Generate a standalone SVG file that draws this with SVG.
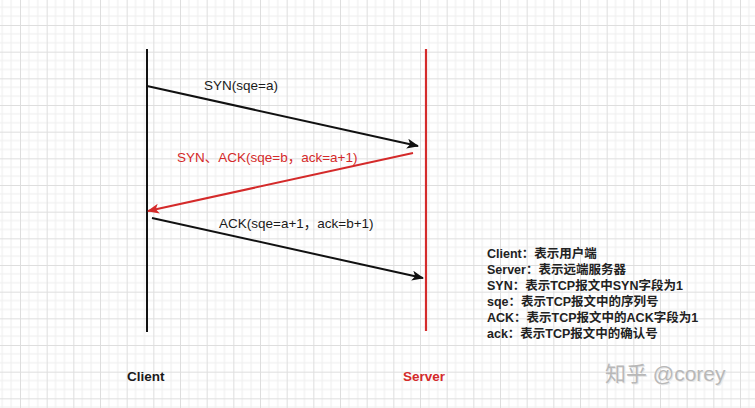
<svg xmlns="http://www.w3.org/2000/svg" width="755" height="408" viewBox="0 0 755 408">
<defs>
<pattern id="grid" patternUnits="userSpaceOnUse" x="20" y="25" width="26.667" height="26.667">
<path d="M8.889 0V26.667M17.778 0V26.667M0 8.889H26.667M0 17.778H26.667" stroke="#eeeeee" stroke-width="1" fill="none"/>
<path d="M0.5 0V26.667M0 0.5H26.667" stroke="#dedede" stroke-width="1" fill="none"/>
</pattern>
<marker id="ab" viewBox="0 0 12 10" refX="11" refY="5" markerWidth="12" markerHeight="10" markerUnits="userSpaceOnUse" orient="auto">
<path d="M0 0L12 5L0 10L3 5Z" fill="#111"/>
</marker>
<marker id="ar" viewBox="0 0 12 10" refX="11" refY="5" markerWidth="12" markerHeight="10" markerUnits="userSpaceOnUse" orient="auto">
<path d="M0 0L12 5L0 10L3 5Z" fill="#d42a2a"/>
</marker>
</defs>
<style>
.lbl{font-family:"Liberation Sans","Noto Sans CJK SC",sans-serif;font-size:13.5px}
.leg{font-family:"Liberation Sans","Noto Sans CJK SC",sans-serif;font-size:12.5px;font-weight:bold;fill:#222}
.blk{fill:#1a1a1a}
.red{fill:#d42a2a}
</style>
<rect width="755" height="408" fill="#fff"/>
<rect width="755" height="408" fill="url(#grid)"/>
<g id="client">
<line x1="147" y1="49" x2="147" y2="332" stroke="#111" stroke-width="2"/>
<text class="lbl blk" x="127" y="381" font-weight="bold" font-size="13">Client</text>
</g>
<g id="server">
<line x1="426" y1="49" x2="426" y2="331" stroke="#d42a2a" stroke-width="2.2"/>
<text class="lbl red" x="403" y="381" font-weight="bold" font-size="13">Server</text>
</g>
<g id="connectors">
<line x1="147" y1="86" x2="418" y2="146" stroke="#111" stroke-width="2" marker-end="url(#ab)"/>
<line x1="413" y1="153" x2="148" y2="211" stroke="#d42a2a" stroke-width="2" marker-end="url(#ar)"/>
<line x1="152" y1="218" x2="423" y2="278" stroke="#111" stroke-width="2" marker-end="url(#ab)"/>
<text class="lbl blk" x="204" y="90">SYN(sqe=a)</text>
<text class="lbl red" x="177" y="162">SYN、ACK(sqe=b，ack=a+1)</text>
<text class="lbl blk" x="219" y="228">ACK(sqe=a+1，ack=b+1)</text>
</g>
<g id="legend">
<text class="leg" x="487" y="258">Client：表示用户端</text>
<text class="leg" x="487" y="274">Server：表示远端服务器</text>
<text class="leg" x="487" y="290">SYN：表示TCP报文中SYN字段为1</text>
<text class="leg" x="487" y="306">sqe：表示TCP报文中的序列号</text>
<text class="leg" x="487" y="322">ACK：表示TCP报文中的ACK字段为1</text>
<text class="leg" x="487" y="338">ack：表示TCP报文中的确认号</text>
</g>
<g id="watermark">
<text x="606" y="382" font-family="Liberation Sans,'Noto Sans CJK SC',sans-serif" font-size="21" fill="#e6e6e6">知乎 @corey</text>
<text x="605" y="381" font-family="Liberation Sans,'Noto Sans CJK SC',sans-serif" font-size="21" fill="#b8b8b8">知乎 @corey</text>
</g>
</svg>
